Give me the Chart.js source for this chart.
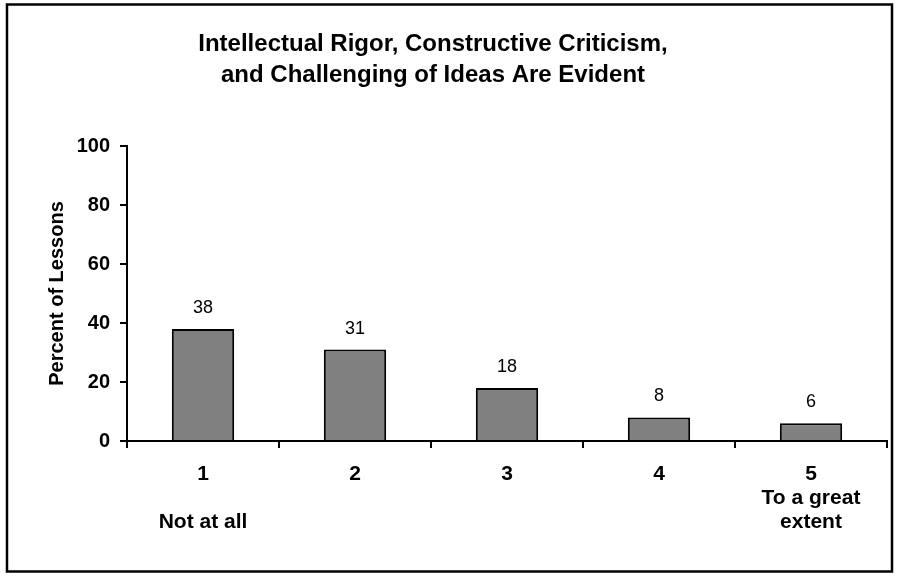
<!DOCTYPE html>
<html>
<head>
<meta charset="utf-8">
<script src="https://cdn.jsdelivr.net/npm/chart.js@4"></script>
<style>
  html, body { margin: 0; padding: 0; background: #fff; }
  #wrap { width: 899px; height: 579px; position: relative; }
</style>
</head>
<body>
<div id="wrap"><canvas id="chart" width="899" height="579"></canvas></div>
<script>
  // chart data
  var categories = [['1', '', 'Not at all'], ['2'], ['3'], ['4'], ['5', 'To a great', 'extent']];
  var percentValues = [38, 31, 18, 8, 6];
  var yTicks = [0, 20, 40, 60, 80, 100];
  var titleLines = ['Intellectual Rigor, Constructive Criticism,', 'and Challenging of Ideas Are Evident'];

  var FONT = "'Liberation Sans', Arial, sans-serif";

  // outer frame + title + value labels
  var decorations = {
    id: 'decorations',
    afterDraw: function (chart) {
      var ctx = chart.ctx;
      ctx.save();
      ctx.strokeStyle = '#000';
      ctx.lineWidth = 2.5;
      ctx.strokeRect(7, 4.5, 885, 567);

      ctx.fillStyle = '#000';
      ctx.textAlign = 'center';
      ctx.textBaseline = 'middle';
      ctx.font = 'bold 24px ' + FONT;
      titleLines.forEach(function (line, i) {
        ctx.fillText(line, 433, 44 + i * 31);
      });

      ctx.font = '18px ' + FONT;
      var meta = chart.getDatasetMeta(0);
      meta.data.forEach(function (bar, i) {
        ctx.fillText(String(percentValues[i]), bar.x, bar.y - 21);
      });
      ctx.restore();
    }
  };

  new Chart(document.getElementById('chart'), {
    type: 'bar',
    data: {
      labels: categories,
      datasets: [{
        data: percentValues,
        backgroundColor: '#808080',
        borderColor: '#000',
        borderWidth: 2,
        borderSkipped: 'bottom',
        barPercentage: 0.41,
        categoryPercentage: 1
      }]
    },
    options: {
      responsive: false,
      animation: false,
      events: [],
      layout: { padding: { top: 146, right: 12, left: 0, bottom: 0 } },
      plugins: {
        legend: { display: false },
        title: { display: false },
        tooltip: { enabled: false }
      },
      scales: {
        x: {
          grid: { drawOnChartArea: false, tickLength: 7, color: '#000', lineWidth: 2 },
          border: { color: '#000', width: 2 },
          ticks: {
            color: '#000',
            padding: 14,
            maxRotation: 0,
            font: { family: FONT, size: 21, weight: 'bold', lineHeight: 1.15 }
          },
          afterFit: function (scale) { scale.height = 138; }
        },
        y: {
          min: 0,
          max: 100,
          afterBuildTicks: function (scale) {
            scale.ticks = yTicks.map(function (v) { return { value: v }; });
          },
          grid: { drawOnChartArea: false, tickLength: 7, color: '#000', lineWidth: 2 },
          border: { color: '#000', width: 2 },
          ticks: {
            color: '#000',
            padding: 10,
            font: { family: FONT, size: 20, weight: 'bold' }
          },
          title: {
            display: true,
            text: 'Percent of Lessons',
            color: '#000',
            padding: { top: 45, bottom: 0 },
            font: { family: FONT, size: 20, weight: 'bold' }
          },
          afterFit: function (scale) { scale.width = 127; }
        }
      }
    },
    plugins: [decorations]
  });
</script>
</body>
</html>
